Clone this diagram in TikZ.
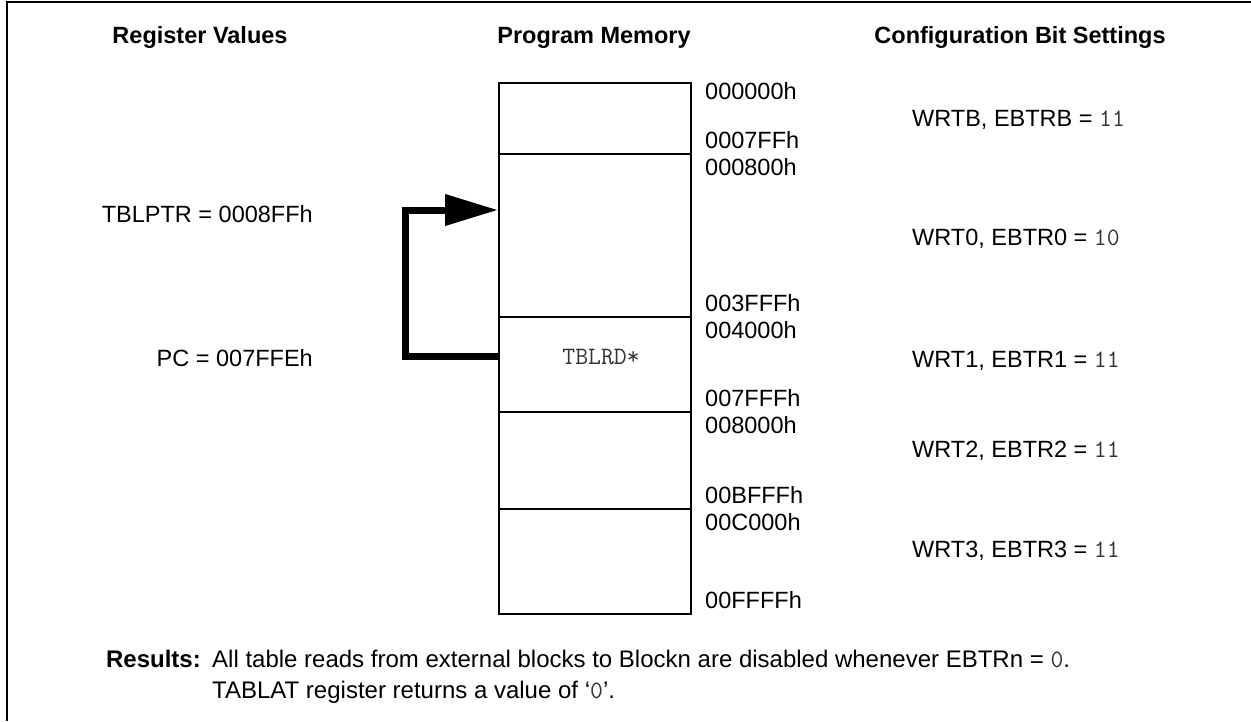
\documentclass[tikz,border=0pt]{standalone}
\usepackage{fontspec}
\setmainfont{Liberation Sans}
\usetikzlibrary{arrows.meta}
\newcommand\cmono[1]{{\fontsize{25}{29}\selectfont\ttfamily\color{black!80}#1}}
\begin{document}
\begin{tikzpicture}[x=1pt,y=-1pt,
  every node/.style={inner sep=0pt, font=\fontsize{23.5}{28}\selectfont},
  hdr/.style={anchor=base, font=\fontsize{23.5}{28}\selectfont\bfseries},
  lbl/.style={anchor=base east},
  addr/.style={anchor=base west},
  cfg/.style={anchor=base west},
  res/.style={anchor=base west, font=\fontsize{24}{28}\selectfont},
  memrow/.style={draw, line width=2pt, minimum width=192pt, anchor=north west},
  flow/.style={line width=7pt, line join=miter, -{Triangle[length=53pt,width=30pt]}}
]
\useasboundingbox (0,0) rectangle (1251,721);
\draw[line width=2.5pt] (7,721) -- (7,2) -- (1251,2);

% headers
\node[hdr] (h1) at (200,43) {Register Values};
\node[hdr] (h2) at (594,43) {Program Memory};
\node[hdr] (h3) at (1020,43) {Configuration Bit Settings};

% memory rows
\node[memrow, minimum height=71pt] (rB) at (498,82) {};
\node[memrow, minimum height=163pt] (r0) at (498,153) {};
\node[memrow, minimum height=95pt] (r1) at (498,316) {};
\node[memrow, minimum height=97pt] (r2) at (498,411) {};
\node[memrow, minimum height=105pt] (r3) at (498,508) {};
\node[anchor=base] (tblrd) at (601,364) {\cmono{TBLRD*}};

% addresses
\node[addr] (a1) at (705,99) {000000h};
\node[addr] (a2) at (705,148) {0007FFh};
\node[addr] (a3) at (705,175) {000800h};
\node[addr] (a4) at (705,311) {003FFFh};
\node[addr] (a5) at (705,338) {004000h};
\node[addr] (a6) at (705,406) {007FFFh};
\node[addr] (a7) at (705,433) {008000h};
\node[addr] (a8) at (705,503) {00BFFFh};
\node[addr] (a9) at (705,530) {00C000h};
\node[addr] (a10) at (705,608) {00FFFFh};

% register values
\node[lbl] (tblptr) at (313,222) {TBLPTR = 0008FFh};
\node[lbl] (pc) at (313,366) {PC = 007FFEh};

% configuration
\node[cfg] (cB) at (912,126) {WRTB, EBTRB = \cmono{11}};
\node[cfg] (c0) at (912,245) {WRT0, EBTR0 = \cmono{10}};
\node[cfg] (c1) at (912,367) {WRT1, EBTR1 = \cmono{11}};
\node[cfg] (c2) at (912,457) {WRT2, EBTR2 = \cmono{11}};
\node[cfg] (c3) at (912,557) {WRT3, EBTR3 = \cmono{11}};

% arrow
\coordinate (src) at (r1.west |- 0,356);
\coordinate (dst) at (r0.west |- 0,210);
\draw[flow] (src) -- (405,356) |- (dst);

% results
\node[anchor=base east, font=\fontsize{24}{28}\selectfont\bfseries] (res) at (201,667) {Results:};
\node[res] (res1) at (212,667) {All table reads from external blocks to Blockn are disabled whenever EBTRn = \cmono{0}.};
\node[res] (res2) at (212,698) {TABLAT register returns a value of `\cmono{0}'.};
\end{tikzpicture}
\end{document}
